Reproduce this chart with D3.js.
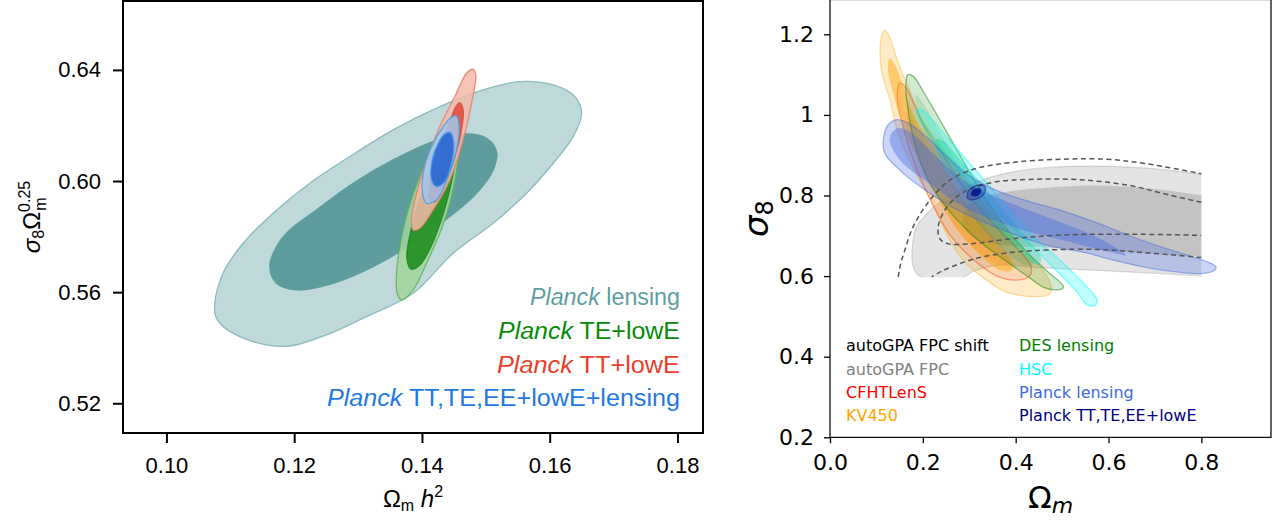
<!DOCTYPE html>
<html>
<head>
<meta charset="utf-8">
<script src="https://cdn.jsdelivr.net/npm/d3@7"></script>
<style>
  html, body { margin: 0; padding: 0; background: #ffffff; }
  svg { display: block; }
</style>
</head>
<body>
<svg id="fig" width="1282" height="522"></svg>
<script>
// ---------------- Left panel: sigma8 Omega_m^0.25 vs Omega_m h^2 ----------------
const xTicksL = [0.10, 0.12, 0.14, 0.16, 0.18];
const xTickLabelsL = ["0.10", "0.12", "0.14", "0.16", "0.18"];
const yTicksL = [0.52, 0.56, 0.60, 0.64];
const yTickLabelsL = ["0.52", "0.56", "0.60", "0.64"];

// 68% / 95% contour outlines, [Omega_m h^2, sigma8 Omega_m^0.25]
const lensingOuter = [[0.10757,0.5560],[0.10886,0.5668],[0.11200,0.5776],[0.11670,0.5884],[0.12244,0.5992],[0.12871,0.6088],[0.13549,0.6184],[0.14280,0.6268],[0.14959,0.6328],[0.15533,0.6358],[0.16055,0.6346],[0.16395,0.6304],[0.16500,0.6244],[0.16368,0.6160],[0.16055,0.6064],[0.15638,0.5956],[0.15115,0.5848],[0.14489,0.5740],[0.13862,0.5596],[0.13132,0.5512],[0.12506,0.5446],[0.11931,0.5406],[0.11566,0.5410],[0.11148,0.5440],[0.10886,0.5476],[0.10772,0.5512]];
const lensingInner = [[0.11618,0.5692],[0.11723,0.5764],[0.11931,0.5824],[0.12349,0.5896],[0.12923,0.5992],[0.13549,0.6076],[0.14175,0.6142],[0.14698,0.6170],[0.15012,0.6154],[0.15168,0.6106],[0.15115,0.6040],[0.14855,0.5956],[0.14437,0.5872],[0.13862,0.5776],[0.13236,0.5692],[0.12609,0.5632],[0.12036,0.5608],[0.11723,0.5632]];
const teOuter = [[0.14515,0.6174],[0.14567,0.6124],[0.14542,0.6040],[0.14437,0.5920],[0.14280,0.5812],[0.14072,0.5704],[0.13862,0.5608],[0.13680,0.5572],[0.13612,0.5596],[0.13602,0.5668],[0.13654,0.5764],[0.13784,0.5896],[0.13967,0.6016],[0.14175,0.6112],[0.14385,0.6166]];
const teInner = [[0.14489,0.6160],[0.14531,0.6112],[0.14469,0.6004],[0.14328,0.5878],[0.14155,0.5770],[0.13968,0.5698],[0.13827,0.5683],[0.13764,0.5723],[0.13811,0.5806],[0.13937,0.5914],[0.14124,0.6033],[0.14328,0.6130],[0.14422,0.6158]];
const ttOuter = [[0.14802,0.6402],[0.14844,0.6382],[0.14777,0.6280],[0.14645,0.6148],[0.14437,0.6004],[0.14175,0.5896],[0.13967,0.5830],[0.13862,0.5824],[0.13837,0.5860],[0.13916,0.5956],[0.14072,0.6076],[0.14280,0.6196],[0.14515,0.6304],[0.14698,0.6388]];
const ttInner = [[0.14594,0.6282],[0.14645,0.6256],[0.14620,0.6184],[0.14515,0.6088],[0.14359,0.5992],[0.14202,0.5926],[0.14113,0.5932],[0.14124,0.5992],[0.14254,0.6100],[0.14410,0.6196],[0.14531,0.6268]];
const allOuter = [[0.14542,0.6234],[0.14583,0.6196],[0.14542,0.6112],[0.14410,0.6016],[0.14229,0.5932],[0.14072,0.5920],[0.14009,0.5956],[0.14030,0.6040],[0.14150,0.6124],[0.14332,0.6196],[0.14464,0.6230]];
const allInner = [[0.14448,0.6174],[0.14500,0.6136],[0.14464,0.6064],[0.14359,0.5998],[0.14229,0.5980],[0.14150,0.6004],[0.14160,0.6076],[0.14254,0.6136],[0.14359,0.6170]];

const legendL = [
  {italic: "Planck", rest: " lensing", color: "#5f9ea0"},
  {italic: "Planck", rest: " TE+lowE", color: "#078a07"},
  {italic: "Planck", rest: " TT+lowE", color: "#e8402a"},
  {italic: "Planck", rest: " TT,TE,EE+lowE+lensing", color: "#1f78e6"}
];

// ---------------- Right panel: sigma8 vs Omega_m ----------------
const xTicksR = [0.0, 0.2, 0.4, 0.6, 0.8];
const xTickLabelsR = ["0.0", "0.2", "0.4", "0.6", "0.8"];
const yTicksR = [0.2, 0.4, 0.6, 0.8, 1.0, 1.2];
const yTickLabelsR = ["0.2", "0.4", "0.6", "0.8", "1", "1.2"];

// autoGPA FPC (filled, grey), prior edge at Omega_m = 0.8 and sigma8 = 0.6
const fpcOuter = [[0.178,0.630],[0.178,0.680],[0.186,0.722],[0.208,0.754],[0.244,0.790],[0.294,0.822],[0.345,0.845],[0.400,0.860],[0.488,0.871],[0.574,0.873],[0.681,0.868],[0.800,0.853],[0.850,0.845],[0.850,0.596],[0.800,0.600],[0.700,0.607],[0.581,0.614],[0.450,0.621],[0.366,0.627],[0.310,0.612],[0.272,0.588],[0.219,0.588],[0.188,0.604]];
const fpcInner = [[0.290,0.762],[0.312,0.788],[0.366,0.806],[0.450,0.818],[0.581,0.825],[0.700,0.816],[0.800,0.801],[0.850,0.795],[0.850,0.645],[0.800,0.648],[0.700,0.655],[0.581,0.664],[0.450,0.672],[0.350,0.680],[0.302,0.700],[0.286,0.732]];
// autoGPA FPC shift (dashed outlines)
const shiftOuterTop = [[0.147,0.598],[0.152,0.630],[0.160,0.660],[0.179,0.722],[0.215,0.788],[0.258,0.838],[0.315,0.867],[0.401,0.883],[0.502,0.890],[0.595,0.890],[0.681,0.879],[0.800,0.854]];
const shiftOuterLow = [[0.800,0.646],[0.680,0.658],[0.580,0.666],[0.470,0.665],[0.400,0.660],[0.330,0.648],[0.287,0.634],[0.244,0.614],[0.219,0.598]];
const shiftInner = [[0.800,0.783],[0.717,0.805],[0.645,0.825],[0.538,0.839],[0.430,0.840],[0.358,0.834],[0.308,0.819],[0.272,0.796],[0.247,0.763],[0.233,0.722],[0.237,0.692],[0.256,0.680],[0.301,0.680],[0.394,0.693],[0.502,0.702],[0.645,0.704],[0.800,0.701]];

const cfhtOuter = [[0.151,1.080],[0.165,1.065],[0.180,1.030],[0.200,0.980],[0.250,0.890],[0.300,0.800],[0.360,0.720],[0.410,0.660],[0.433,0.625],[0.430,0.600],[0.400,0.590],[0.360,0.600],[0.310,0.640],[0.260,0.700],[0.220,0.780],[0.185,0.870],[0.160,0.960],[0.145,1.040]];
const cfhtInner = [[0.165,1.000],[0.178,0.985],[0.210,0.920],[0.260,0.830],[0.320,0.740],[0.370,0.675],[0.390,0.640],[0.380,0.625],[0.355,0.632],[0.310,0.670],[0.260,0.740],[0.220,0.820],[0.185,0.900],[0.165,0.970]];
const kvOuter = [[0.118,1.210],[0.128,1.195],[0.137,1.165],[0.150,1.120],[0.172,1.060],[0.197,0.990],[0.240,0.920],[0.290,0.840],[0.340,0.765],[0.395,0.695],[0.440,0.640],[0.468,0.598],[0.477,0.568],[0.470,0.553],[0.440,0.549],[0.409,0.552],[0.380,0.560],[0.337,0.590],[0.287,0.639],[0.251,0.705],[0.218,0.788],[0.178,0.871],[0.148,0.950],[0.129,1.036],[0.111,1.111],[0.108,1.168],[0.111,1.195]];
const kvInner = [[0.128,1.140],[0.140,1.125],[0.155,1.080],[0.180,1.000],[0.230,0.900],[0.280,0.800],[0.325,0.725],[0.370,0.665],[0.395,0.630],[0.390,0.613],[0.370,0.613],[0.335,0.640],[0.295,0.685],[0.265,0.730],[0.230,0.800],[0.190,0.890],[0.155,0.980],[0.135,1.060],[0.125,1.110]];
const desOuter = [[0.168,1.100],[0.180,1.095],[0.200,1.060],[0.229,1.003],[0.270,0.920],[0.310,0.840],[0.350,0.765],[0.400,0.690],[0.437,0.645],[0.475,0.605],[0.500,0.580],[0.503,0.572],[0.490,0.566],[0.460,0.572],[0.437,0.590],[0.387,0.631],[0.318,0.690],[0.257,0.762],[0.210,0.840],[0.180,0.940],[0.166,1.030],[0.163,1.070]];
const desInner = [[0.185,1.050],[0.200,1.030],[0.235,0.960],[0.280,0.870],[0.330,0.785],[0.380,0.710],[0.420,0.660],[0.440,0.635],[0.430,0.625],[0.400,0.640],[0.350,0.690],[0.300,0.760],[0.255,0.840],[0.215,0.930],[0.190,1.000]];
const hscOuter = [[0.190,1.015],[0.208,1.003],[0.251,0.945],[0.301,0.879],[0.351,0.813],[0.380,0.772],[0.437,0.700],[0.509,0.625],[0.550,0.578],[0.575,0.542],[0.572,0.528],[0.555,0.528],[0.531,0.562],[0.466,0.639],[0.394,0.722],[0.323,0.805],[0.251,0.896],[0.201,0.970],[0.186,1.005]];
const hscInner = [[0.229,0.940],[0.245,0.935],[0.280,0.890],[0.330,0.825],[0.380,0.755],[0.430,0.685],[0.455,0.645],[0.452,0.630],[0.440,0.630],[0.410,0.660],[0.350,0.730],[0.290,0.810],[0.250,0.870],[0.228,0.915]];
const plLensOuter = [[0.115,0.940],[0.125,0.975],[0.143,0.988],[0.165,0.982],[0.208,0.945],[0.251,0.898],[0.301,0.848],[0.366,0.809],[0.430,0.785],[0.509,0.759],[0.580,0.730],[0.652,0.697],[0.720,0.670],[0.780,0.648],[0.818,0.633],[0.832,0.622],[0.825,0.612],[0.796,0.606],[0.750,0.610],[0.688,0.620],[0.620,0.637],[0.550,0.658],[0.473,0.675],[0.430,0.690],[0.323,0.738],[0.251,0.779],[0.186,0.829],[0.143,0.871],[0.118,0.904]];
const plLensInner = [[0.129,0.945],[0.143,0.966],[0.160,0.965],[0.186,0.945],[0.215,0.912],[0.287,0.838],[0.358,0.796],[0.466,0.747],[0.574,0.697],[0.638,0.652],[0.588,0.664],[0.502,0.689],[0.394,0.722],[0.287,0.772],[0.215,0.829],[0.158,0.879],[0.133,0.920]];
const plTTOuter = [[0.295,0.796],[0.301,0.815],[0.315,0.825],[0.331,0.825],[0.335,0.817],[0.330,0.801],[0.315,0.791],[0.300,0.790]];
const plTTInner = [[0.304,0.801],[0.307,0.813],[0.317,0.818],[0.325,0.816],[0.324,0.805],[0.315,0.798]];

const legendR = [
  {label: "autoGPA FPC shift", color: "#000000", col: 0, row: 0},
  {label: "autoGPA FPC", color: "#808080", col: 0, row: 1},
  {label: "CFHTLenS", color: "#ff0000", col: 0, row: 2},
  {label: "KV450", color: "#ffa500", col: 0, row: 3},
  {label: "DES lensing", color: "#008000", col: 1, row: 0},
  {label: "HSC", color: "#00ffff", col: 1, row: 1},
  {label: "Planck lensing", color: "#4169e1", col: 1, row: 2},
  {label: "Planck TT,TE,EE+lowE", color: "#000080", col: 1, row: 3}
];

// ====================================================================
const svg = d3.select("#fig");

// ---------- left panel ----------
const boxL = {left: 123, right: 703, top: 1, bottom: 433};
const xL = d3.scaleLinear().domain([0.0932, 0.1840]).range([boxL.left, boxL.right]);
const yL = d3.scaleLinear().domain([0.5093, 0.6648]).range([boxL.bottom, boxL.top]);
const fontL = "'Liberation Sans', Arial, sans-serif";

const defs = svg.append("defs");
defs.append("clipPath").attr("id", "clipL").append("rect")
  .attr("x", boxL.left).attr("y", boxL.top)
  .attr("width", boxL.right - boxL.left).attr("height", boxL.bottom - boxL.top);

const gL = svg.append("g");
const plotL = gL.append("g").attr("clip-path", "url(#clipL)");
const closedL = d3.line().x(d => xL(d[0])).y(d => yL(d[1])).curve(d3.curveCatmullRomClosed.alpha(0.5));

function contourL(pts, fill, stroke, op) {
  plotL.append("path").attr("d", closedL(pts))
    .attr("fill", fill).attr("fill-opacity", op)
    .attr("stroke", stroke).attr("stroke-width", 1.3).attr("stroke-opacity", op);
}
contourL(lensingOuter, "#bfd9da", "#8bbbbd", 1);
contourL(lensingInner, "#5f9c9e", "#5f9c9e", 1);
contourL(teOuter, "#a2d49c", "#5cb45c", 0.85);
contourL(teInner, "#1a8a1a", "#1a8a1a", 0.85);
contourL(ttOuter, "#f5baa8", "#e8806a", 0.85);
contourL(ttInner, "#e04a3a", "#e04a3a", 0.85);
contourL(allOuter, "#a2c5ea", "#4a9de8", 0.85);
contourL(allInner, "#1f62d2", "#4a9de8", 0.85);

// frame
gL.append("rect").attr("x", boxL.left).attr("y", boxL.top)
  .attr("width", boxL.right - boxL.left).attr("height", boxL.bottom - boxL.top)
  .attr("fill", "none").attr("stroke", "#000").attr("stroke-width", 2);

function styleAxis(g, font, size, tickW) {
  g.select(".domain").remove();
  g.selectAll(".tick line").attr("stroke", "#000").attr("stroke-width", tickW);
  g.selectAll(".tick text").attr("font-family", font).attr("font-size", size).attr("fill", "#000");
}
const axXL = gL.append("g").attr("transform", `translate(0,${boxL.bottom})`)
  .call(d3.axisBottom(xL).tickValues(xTicksL).tickFormat((d, i) => xTickLabelsL[i]).tickSize(10).tickPadding(14).tickSizeOuter(0));
styleAxis(axXL, fontL, 22, 2);
const axYL = gL.append("g").attr("transform", `translate(${boxL.left},0)`)
  .call(d3.axisLeft(yL).tickValues(yTicksL).tickFormat((d, i) => yTickLabelsL[i]).tickSize(10).tickPadding(12).tickSizeOuter(0));
styleAxis(axYL, fontL, 22, 2);

// axis titles
const xtL = gL.append("text").attr("x", (boxL.left + boxL.right) / 2).attr("y", 507)
  .attr("text-anchor", "middle").attr("font-family", fontL).attr("font-size", 24).attr("fill", "#000");
xtL.append("tspan").text("Ω");
xtL.append("tspan").attr("font-size", 16).attr("dy", 4).text("m");
xtL.append("tspan").attr("font-style", "italic").attr("dy", -4).text(" h");
xtL.append("tspan").attr("font-size", 16).attr("dy", -10).text("2");

const ytL = gL.append("text").attr("transform", `translate(40,${(boxL.top + boxL.bottom) / 2}) rotate(-90)`)
  .attr("text-anchor", "middle").attr("font-family", fontL).attr("font-size", 24).attr("fill", "#000");
ytL.append("tspan").attr("font-style", "italic").text("σ");
ytL.append("tspan").attr("font-size", 16).attr("dy", 4).text("8");
ytL.append("tspan").attr("dy", -4).text("Ω");
ytL.append("tspan").attr("font-size", 16).attr("dy", -10).text("0.25");
// subscript m sits under the superscript
ytL.append("tspan").attr("font-size", 16).attr("dx", -30).attr("dy", 16).text("m");

// legend, right-aligned; each line set to its typeset width
const legBaseL = [305, 339, 372.5, 406];
const legWidthL = [150, 182, 183, 353];
legendL.forEach((d, i) => {
  const t = gL.append("text").attr("x", 680 - legWidthL[i]).attr("y", legBaseL[i])
    .attr("textLength", legWidthL[i]).attr("lengthAdjust", "spacingAndGlyphs")
    .attr("font-family", fontL).attr("font-size", 23).attr("fill", d.color);
  t.append("tspan").attr("font-style", "italic").text(d.italic);
  t.append("tspan").text(d.rest);
});

// ---------- right panel ----------
const boxR = {left: 830, right: 1271, top: 0, bottom: 437.3};
const xR = d3.scaleLinear().domain([0, 0.95]).range([boxR.left, boxR.right]);
const yR = d3.scaleLinear().domain([0.2, 1.2]).range([boxR.bottom, 34.3]);
const fontR = "'DejaVu Sans', sans-serif";

defs.append("clipPath").attr("id", "clipR").append("rect")
  .attr("x", boxR.left).attr("y", boxR.top)
  .attr("width", boxR.right - boxR.left).attr("height", boxR.bottom - boxR.top);
// prior box of the autoGPA runs: Omega_m <= 0.8, sigma8 >= 0.6
defs.append("clipPath").attr("id", "clipPrior").append("rect")
  .attr("x", boxR.left).attr("y", 0)
  .attr("width", xR(0.8) - boxR.left).attr("height", yR(0.597));

const gR = svg.append("g");
const plotR = gR.append("g").attr("clip-path", "url(#clipR)");
const closedR = d3.line().x(d => xR(d[0])).y(d => yR(d[1])).curve(d3.curveCatmullRomClosed.alpha(0.5));
const openR = d3.line().x(d => xR(d[0])).y(d => yR(d[1])).curve(d3.curveCatmullRom.alpha(0.5));

function contourR(parent, pts, color, fillOp, strokeOp) {
  parent.append("path").attr("d", closedR(pts))
    .attr("fill", color).attr("fill-opacity", fillOp)
    .attr("stroke", color).attr("stroke-opacity", strokeOp).attr("stroke-width", 1.3);
}

const priorG = plotR.append("g").attr("clip-path", "url(#clipPrior)");
contourR(priorG, fpcOuter, "#808080", 0.21, 0.25);
contourR(priorG, fpcInner, "#808080", 0.33, 0.0);

contourR(plotR, cfhtOuter, "#ff0000", 0.10, 0.40);
contourR(plotR, cfhtInner, "#ff0000", 0.12, 0.0);
contourR(plotR, kvOuter, "#ffa500", 0.22, 0.35);
contourR(plotR, kvInner, "#ffa500", 0.45, 0.0);
contourR(plotR, desOuter, "#008000", 0.18, 0.45);
contourR(plotR, desInner, "#008000", 0.12, 0.0);
contourR(plotR, hscOuter, "#00ffff", 0.24, 0.50);
contourR(plotR, hscInner, "#00d8b0", 0.35, 0.0);
contourR(plotR, plLensOuter, "#4169e1", 0.28, 0.45);
contourR(plotR, plLensInner, "#4169e1", 0.40, 0.0);

// dashed autoGPA FPC shift contours
const dashG = plotR.append("g").attr("fill", "none").attr("stroke", "#555555")
  .attr("stroke-width", 1.5).attr("stroke-dasharray", "5,3.5");
dashG.append("path").attr("d", openR(shiftOuterTop));
dashG.append("path").attr("d", openR(shiftOuterLow));
dashG.append("path").attr("d", openR(shiftInner));

contourR(plotR, plTTOuter, "#000080", 0.25, 0.45);
contourR(plotR, plTTInner, "#000080", 0.75, 0.0);

// frame
gR.append("line").attr("x1", boxR.left).attr("x2", boxR.right).attr("y1", 0.5).attr("y2", 0.5)
  .attr("stroke", "#dddddd").attr("stroke-width", 1);
gR.append("path")
  .attr("d", `M${boxR.left},${boxR.top}V${boxR.bottom}H${boxR.right}V${boxR.top}`)
  .attr("fill", "none").attr("stroke", "#111").attr("stroke-width", 1.3);

const axXR = gR.append("g").attr("transform", `translate(0,${boxR.bottom})`)
  .call(d3.axisBottom(xR).tickValues(xTicksR).tickFormat((d, i) => xTickLabelsR[i]).tickSize(6).tickPadding(11).tickSizeOuter(0));
styleAxis(axXR, fontR, 22, 1.3);
const axYR = gR.append("g").attr("transform", `translate(${boxR.left},0)`)
  .call(d3.axisLeft(yR).tickValues(yTicksR).tickFormat((d, i) => yTickLabelsR[i]).tickSize(6).tickPadding(10).tickSizeOuter(0));
styleAxis(axYR, fontR, 22, 1.3);

// axis titles
const xtR = gR.append("text").attr("x", (boxR.left + boxR.right) / 2).attr("y", 508)
  .attr("text-anchor", "middle").attr("font-family", fontR).attr("font-size", 31).attr("fill", "#000");
xtR.append("tspan").text("Ω");
xtR.append("tspan").attr("font-style", "italic").attr("font-size", 22).attr("dy", 5).text("m");

const ytR = gR.append("text").attr("transform", `translate(768,${(boxR.top + boxR.bottom) / 2}) rotate(-90)`)
  .attr("text-anchor", "middle").attr("font-family", fontR).attr("font-size", 34).attr("fill", "#000");
ytR.append("tspan").attr("font-style", "italic").text("σ");
ytR.append("tspan").attr("font-size", 24).attr("dy", 5).text("8");

// legend (two columns, text only)
const legColX = [846, 1019];
const legRowY = [350.7, 374.8, 397.6, 421];
gR.selectAll("text.leg").data(legendR).join("text").attr("class", "leg")
  .attr("x", d => legColX[d.col]).attr("y", d => legRowY[d.row])
  .attr("font-family", fontR).attr("font-size", 16).attr("fill", d => d.color)
  .text(d => d.label);
</script>
</body>
</html>
